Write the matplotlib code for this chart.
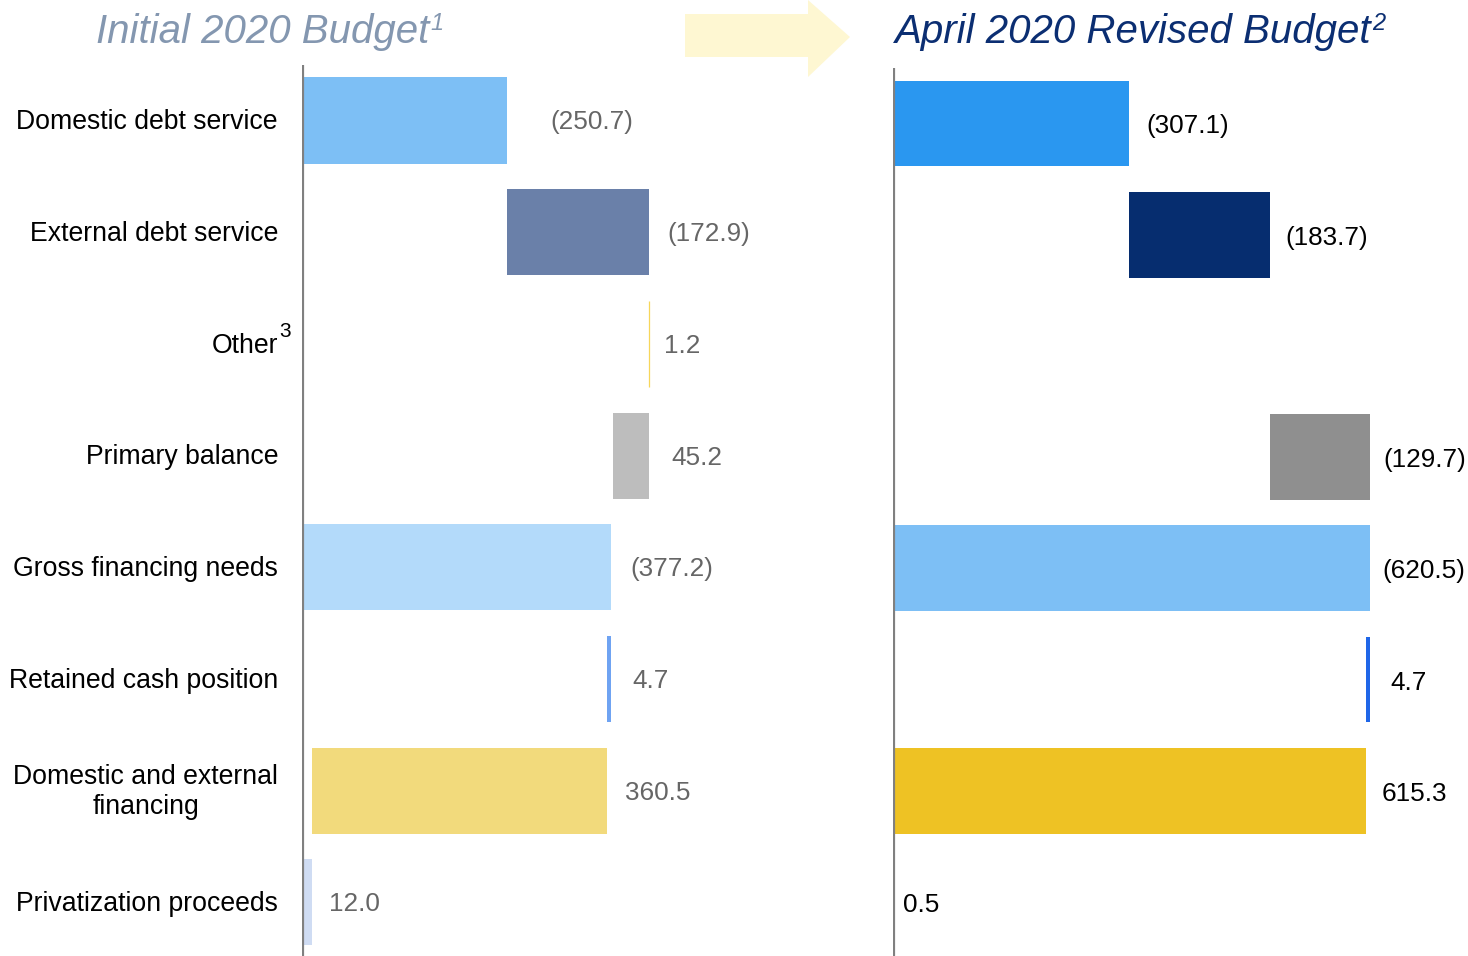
import matplotlib
matplotlib.use("Agg")
import matplotlib.pyplot as plt
import matplotlib.transforms as mtrans
from matplotlib.patches import Polygon

plt.rcParams['font.family'] = ['Liberation Sans', 'DejaVu Sans']

# ---------------- data ----------------
categories = ["Domestic debt service", "External debt service", "Other", "Primary balance",
              "Gross financing needs", "Retained cash position",
              "Domestic and external\nfinancing", "Privatization proceeds"]

# signed waterfall steps (first four build up, gross = total, last three run down)
left_steps = [250.7, 172.9, 1.2, -45.2]
left_gross = 377.2
left_down = [4.7, 360.5, 12.0]
left_labels = ["(250.7)", "(172.9)", "1.2", "45.2", "(377.2)", "4.7", "360.5", "12.0"]

right_steps = [307.1, 183.7, None, 129.7]
right_gross = 620.5
right_down = [4.7, 615.3, 0.5]
right_labels = ["(307.1)", "(183.7)", None, "(129.7)", "(620.5)", "4.7", "615.3", "0.5"]

left_colors = ["#7dbff5", "#6a80a9", "#f7d65a", "#bdbdbd", "#b3dafa", "#6fa3f2", "#f2da7c", "#cfdcf3"]
right_colors = ["#2a97f0", "#062d6f", None, "#8f8f8f", "#7dbff5", "#1f66e8", "#eec224", "#cfdcf3"]

W, H, DPI = 1468, 956, 100
fig = plt.figure(figsize=(W / DPI, H / DPI), dpi=DPI)


def waterfall(steps, gross, down):
    """Return (start, width) segments for each row."""
    segs = []
    run = 0.0
    for v in steps:
        if v is None:
            segs.append(None)
            continue
        if v >= 0:
            segs.append((run, v))
        else:
            segs.append((run + v, -v))
        run += v
    segs.append((0.0, gross))
    run = gross
    for i, v in enumerate(down):
        if i == len(down) - 1:
            segs.append((0.0, v))
        else:
            segs.append((run - v, v))
            run -= v
    return segs


def make_axes(x0, x1, top, xmax, row0, pitch):
    h = (H - top) / H
    ax = fig.add_axes([x0 / W, 0, (x1 - x0) / W, h])
    ax.set_xlim(0, xmax)
    ytop = -(row0 - top) / pitch
    ybot = (H - row0) / pitch
    ax.set_ylim(ybot, ytop)
    for s in ax.spines.values():
        s.set_visible(False)
    ax.set_xticks([])
    ax.set_yticks([])
    ax.patch.set_alpha(0)
    ax.axvline(0, color="#808080", lw=2.3, zorder=5)
    return ax


axL = make_axes(302, 880, 65, (880 - 302) / 0.818, 120.5, 111.7)
axR = make_axes(893, W, 68, (W - 893) / 0.7685, 123.5, 111.2)

bar_h = 0.77
left_pad = [43, 19, 15, 22, 20, 22, 18, 17]
right_pad = [17, 15, 15, 14, 13, 21, 15, 10]


def draw(ax, segs, colors, labels, pads, tcolor, dy):
    for i, seg in enumerate(segs):
        if seg is None:
            continue
        start, width = seg
        ax.barh(i, width, left=start, height=bar_h, color=colors[i], edgecolor=colors[i],
                linewidth=0.9 if width < 3 else 0, zorder=3)
        ax.annotate(labels[i], xy=(start + width, i), xytext=(pads[i] * 72 / DPI, dy * 72 / DPI),
                    textcoords='offset points', va='center', ha='left',
                    fontsize=18.8, color=tcolor)


draw(axL, waterfall(left_steps, left_gross, left_down), left_colors, left_labels, left_pad, "#666666", -2)
draw(axR, waterfall(right_steps, right_gross, right_down), right_colors, right_labels, right_pad, "#000000", -3)

# row labels
tr = mtrans.blended_transform_factory(fig.transFigure, axL.transData)
for i, c in enumerate(categories):
    fig.text(278 / W, i + 0.015, c, transform=tr, ha='right', va='center', multialignment='center',
             fontsize=19.2, color='black', linespacing=1.2)
    if c == "Other":
        fig.text(279 / W, i - 0.11, "3", transform=tr, ha='left', va='center', fontsize=15, color='black')

# titles with superscripts
fig.canvas.draw()
renderer = fig.canvas.get_renderer()
for x, txt, sup, col in [(96, "Initial 2020 Budget", "1", "#8497b0"),
                         (895, "April 2020 Revised Budget", "2", "#0b2e72")]:
    t = fig.text(x / W, 1 - 32 / H, txt, ha='left', va='center', fontsize=29,
                 style='italic', color=col)
    bb = t.get_window_extent(renderer)
    fig.text((bb.x1 + 1) / W, 1 - 23 / H, sup, ha='left', va='center', fontsize=17,
             style='italic', color=col)

# arrow
arrow_px = [(685, 14), (808, 14), (808, 0), (850, 37), (808, 77), (808, 57), (685, 57)]
arrow = Polygon([(x / W, 1 - y / H) for x, y in arrow_px], closed=True, transform=fig.transFigure,
                facecolor="#fef7d2", edgecolor='none', zorder=0)
fig.patches.append(arrow)

fig.savefig("out.png", dpi=DPI)
